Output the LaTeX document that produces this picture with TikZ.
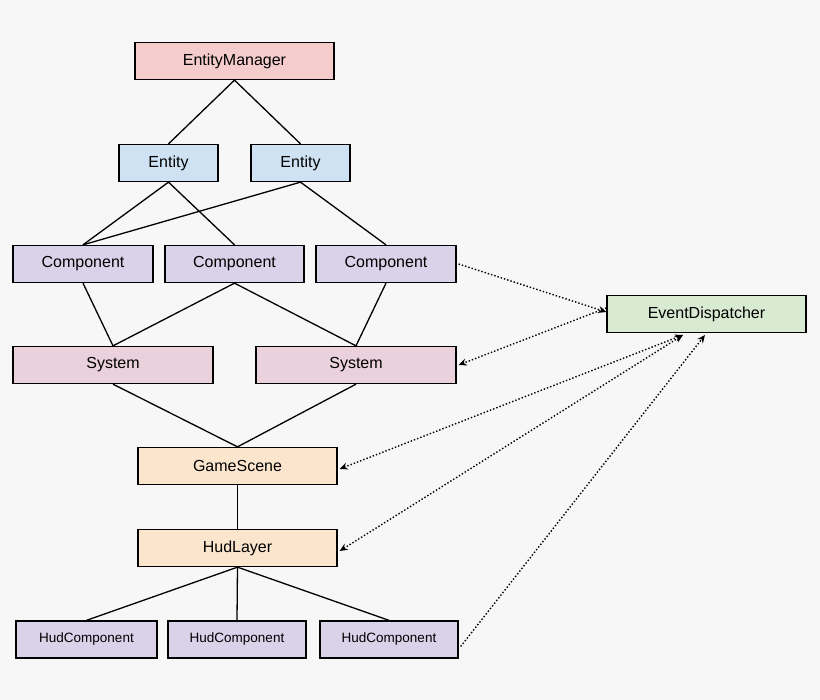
\documentclass[tikz,border=0pt]{standalone}
\usepackage{fontspec}
\setmainfont{Liberation Sans}
\usetikzlibrary{arrows.meta}
\definecolor{bg}{HTML}{F7F7F7}
\definecolor{cem}{HTML}{F4CCCC}
\definecolor{cent}{HTML}{CFE2F3}
\definecolor{ccomp}{HTML}{D9D2E9}
\definecolor{csys}{HTML}{EAD1DC}
\definecolor{corg}{HTML}{FCE5CD}
\definecolor{cgrn}{HTML}{D9EAD3}
\begin{document}
\begin{tikzpicture}[x=1pt,y=-1pt,
  box/.style={draw=black,line width=1.3pt,minimum height=37pt,inner sep=0pt,font=\fontsize{16}{18}\selectfont},
  small/.style={box,font=\fontsize{13.5}{16}\selectfont},
  ln/.style={line width=1.3pt},
  dot/.style={line width=1.4pt,dotted,-{Stealth[length=8pt,width=7pt]}}]
\fill[bg] (0,0) rectangle (820,700);
\useasboundingbox (0,0) rectangle (820,700);
\node[box,fill=cem,minimum width=199pt] (em) at (234.5,61) {EntityManager};
\node[box,fill=cent,minimum width=99pt] (e1) at (168.5,163) {Entity};
\node[box,fill=cent,minimum width=99pt] (e2) at (300.5,163) {Entity};
\node[box,fill=ccomp,minimum width=140pt] (c1) at (83,264) {Component};
\node[box,fill=ccomp,minimum width=139pt] (c2) at (234.5,264) {Component};
\node[box,fill=ccomp,minimum width=140pt] (c3) at (386,264) {Component};
\node[box,fill=csys,minimum width=200pt] (s1) at (113,365) {System};
\node[box,fill=csys,minimum width=200pt] (s2) at (356,365) {System};
\node[box,fill=corg,minimum width=199pt] (gs) at (237.5,466) {GameScene};
\node[box,fill=corg,minimum width=199pt] (hl) at (237.5,548) {HudLayer};
\node[small,fill=ccomp,minimum width=141pt] (h1) at (86.5,639.5) {HudComponent};
\node[small,fill=ccomp,minimum width=138pt] (h2) at (237,639.5) {HudComponent};
\node[small,fill=ccomp,minimum width=138pt] (h3) at (389,639.5) {HudComponent};
\node[box,fill=cgrn,minimum width=199pt] (ed) at (706.5,314) {EventDispatcher};
\coordinate (edb1) at (683,335);
\coordinate (edb2) at (705,335);
\draw[ln] (em.south) -- (e1.north);
\draw[ln] (em.south) -- (e2.north);
\draw[ln] (e1.south) -- (c1.north);
\draw[ln] (e1.south) -- (c2.north);
\draw[ln] (e2.south) -- (c1.north);
\draw[ln] (e2.south) -- (c3.north);
\draw[ln] (c1.south) -- (s1.north);
\draw[ln] (c2.south) -- (s1.north);
\draw[ln] (c2.south) -- (s2.north);
\draw[ln] (c3.south) -- (s2.north);
\draw[ln] (s1.south) -- (gs.north);
\draw[ln] (s2.south) -- (gs.north);
\draw[ln] (gs.south) -- (hl.north);
\draw[ln] (hl.south) -- (h1.north);
\draw[ln] (hl.south) -- (h2.north);
\draw[ln] (hl.south) -- (h3.north);
\draw[dot] ([xshift=2pt]c3.east) -- ([yshift=2pt]ed.west);
\draw[dot] ([yshift=6pt]ed.west) -- ([xshift=2pt]s2.east);
\draw[dot,{Stealth[length=8pt,width=7pt]}-{Stealth[length=8pt,width=7pt]}] ([xshift=2pt,yshift=-3pt]gs.east) -- (edb1);
\draw[dot,{Stealth[length=8pt,width=7pt]}-{Stealth[length=8pt,width=7pt]}] ([xshift=2pt,yshift=-3pt]hl.east) -- (edb1);
\draw[dot] ([xshift=2pt,yshift=-7pt]h3.east) -- (edb2);
\end{tikzpicture}
\end{document}
